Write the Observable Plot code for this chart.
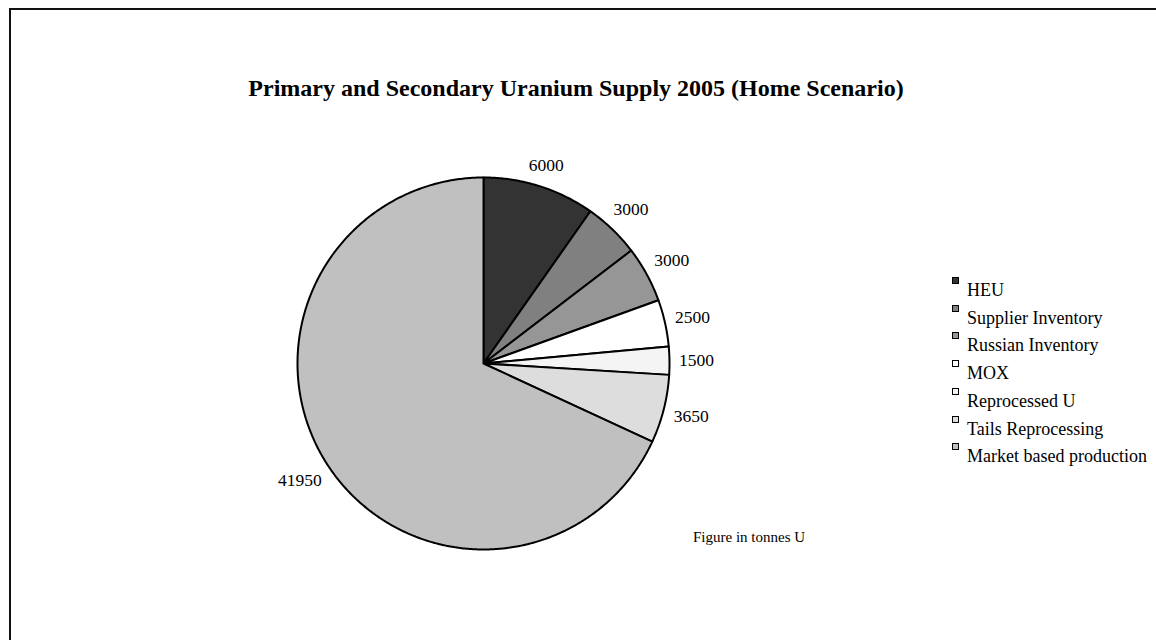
<!DOCTYPE html>
<html>
<head>
<meta charset="utf-8">
<script src="https://cdn.jsdelivr.net/npm/d3@7"></script>
<script src="https://cdn.jsdelivr.net/npm/@observablehq/plot@0.6"></script>
<style>
  html, body { margin: 0; padding: 0; background: #fff; overflow: hidden; }
  #page { position: relative; width: 1156px; height: 640px; overflow: hidden; font-family: "Liberation Serif", "Times New Roman", serif; }
  #frame { position: absolute; left: 9px; top: 8px; width: 1300px; height: 800px; border-left: 2px solid #111; border-top: 2px solid #111; }
  #title { position: absolute; left: 0; width: 1152px; text-align: center; top: 76px; font-size: 24px; line-height: 24px; font-weight: bold; color: #000; }
  #chart { position: absolute; left: 0; top: 0; }
  #legend { position: absolute; left: 952px; top: 270px; width: 204px; height: 200px; }
  .sw { position: absolute; width: 5px; height: 5px; border: 1.5px solid #000; }
  .lt { position: absolute; font-size: 18px; line-height: 18px; white-space: nowrap; color: #000; }
  #caption { position: absolute; left: 693px; top: 530px; font-size: 15px; line-height: 15px; color: #000; white-space: nowrap; }
</style>
</head>
<body>
<div id="page">
  <div id="frame"></div>
  <div id="title">Primary and Secondary Uranium Supply 2005 (Home Scenario)</div>
  <div id="chart"></div>
  <div id="legend"></div>
  <div id="caption">Figure in tonnes U</div>
</div>
<script>
// ---- data ----
const categories = ["HEU", "Supplier Inventory", "Russian Inventory", "MOX", "Reprocessed U", "Tails Reprocessing", "Market based production"];
const values = [6000, 3000, 3000, 2500, 1500, 3650, 41950];
const fills = ["#333333", "#808080", "#969696", "#ffffff", "#f4f4f4", "#dddddd", "#c0c0c0"];

// ---- geometry from data ----
const arcs = d3.pie().sort(null).value(d => d.value)(categories.map((c, i) => ({name: c, value: values[i], fill: fills[i]})));

function slicePoints(a) {
  const pts = [{x: 0, y: 0}];
  const n = Math.max(2, Math.ceil((a.endAngle - a.startAngle) / (Math.PI / 360)));
  for (let k = 0; k <= n; k++) {
    const t = a.startAngle + (a.endAngle - a.startAngle) * k / n;
    pts.push({x: Math.sin(t), y: Math.cos(t)});
  }
  pts.push({x: 0, y: 0});
  return pts;
}

const pxPerUnit = 186;
const labelFont = 17.5;
const labels = arcs.map(a => {
  const m = (a.startAngle + a.endAngle) / 2;
  const txt = String(a.data.value);
  const w = txt.length * labelFont * 0.5, h = labelFont * 0.9;
  const off = (w / 2 * Math.abs(Math.sin(m)) + h / 2 * Math.abs(Math.cos(m))) / pxPerUnit;
  const r = 1.05 + off;
  return {x: r * Math.sin(m), y: r * Math.cos(m), text: txt};
});

const chart = Plot.plot({
  width: 1156,
  height: 640,
  margin: 0,
  x: {domain: [-1, 1], range: [297, 669], axis: null},
  y: {domain: [-1, 1], range: [549, 177], axis: null},
  style: {background: "transparent"},
  marks: [
    ...arcs.map(a => Plot.line(slicePoints(a), {x: "x", y: "y", fill: a.data.fill, stroke: "#000", strokeWidth: 2, strokeLinejoin: "round"})),
    Plot.text(labels, {x: "x", y: "y", text: "text", fontSize: labelFont, fontFamily: "Liberation Serif", fill: "#000"})
  ]
});
document.getElementById("chart").appendChild(chart);

// ---- legend ----
const legend = document.getElementById("legend");
categories.forEach((c, i) => {
  const sw = document.createElement("div");
  sw.className = "sw";
  sw.style.left = "0px";
  sw.style.top = (7 + i * 27.7) + "px";
  sw.style.background = fills[i];
  legend.appendChild(sw);
  const t = document.createElement("div");
  t.className = "lt";
  t.style.left = "15px";
  t.style.top = (11 + i * 27.7) + "px";
  t.textContent = c;
  legend.appendChild(t);
});
</script>
</body>
</html>
